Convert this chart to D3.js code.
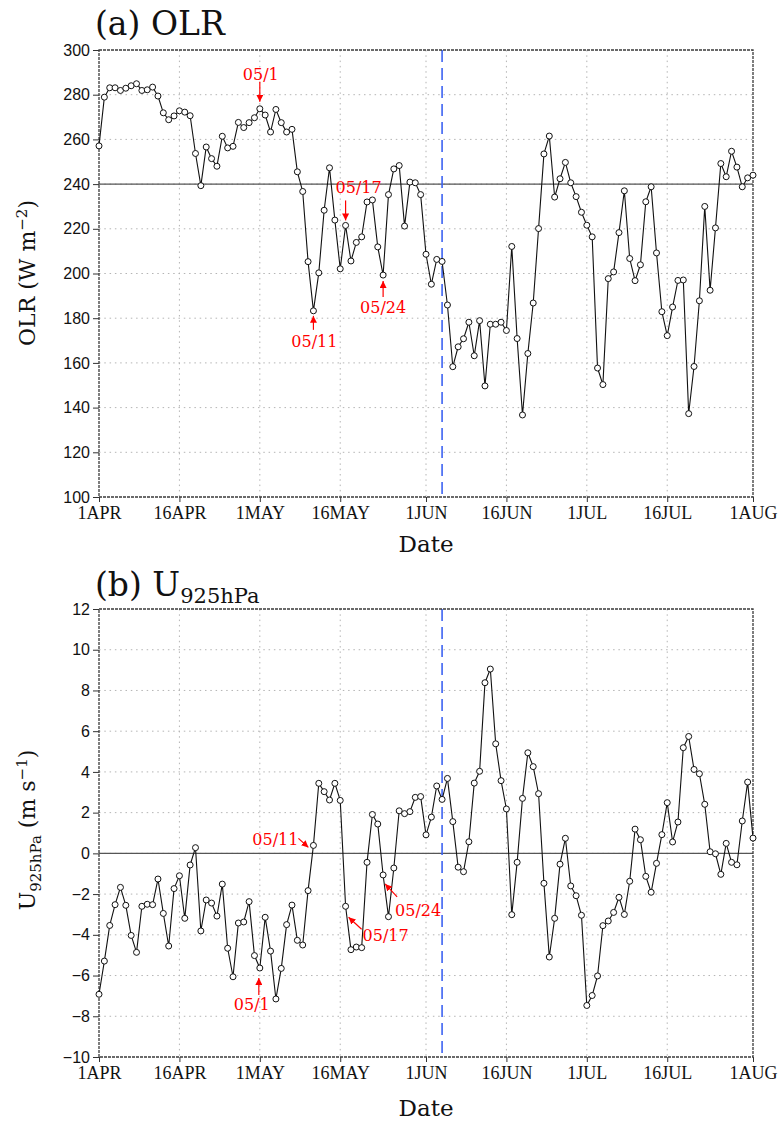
<!DOCTYPE html>
<html>
<head>
<meta charset="utf-8">
<script src="https://cdn.jsdelivr.net/npm/d3@7"></script>
<style>
  body { margin: 0; background: #fff; }
  svg { display: block; }
</style>
</head>
<body>
<svg id="chart" width="779" height="1124"></svg>
<script>
// Daily OLR (W m-2), 1 Apr - 1 Aug
const olr = [
  257.1, 278.9, 283.1, 283.1, 281.9, 282.9, 284.0, 284.9, 281.9, 282.2,
  283.4, 279.4, 271.9, 268.8, 270.5, 272.8, 272.2, 270.6, 253.7, 239.3,
  256.6, 251.4, 248.0, 261.4, 256.2, 256.9, 267.6, 265.3, 267.5, 269.7,
  273.7, 270.9, 263.3, 273.4, 267.5, 263.3, 264.5, 245.5, 236.7, 205.3,
  183.3, 200.3, 228.3, 247.3, 223.9, 202.1, 221.5, 205.6, 213.9, 216.4,
  232.0, 232.9, 211.9, 199.3, 235.3, 246.8, 248.3, 221.2, 240.9, 240.6,
  235.3, 208.6, 195.2, 206.3, 205.4, 185.9, 158.3, 167.2, 170.8, 178.2,
  163.2, 178.9, 149.7, 177.3, 177.3, 178.2, 174.5, 212.1, 170.9, 136.7,
  164.2, 186.8, 220.1, 253.5, 261.5, 234.2, 242.4, 249.7, 240.6, 234.4,
  227.4, 221.6, 216.4, 157.7, 150.3, 197.7, 200.7, 218.3, 237.0, 206.7,
  196.8, 203.9, 232.1, 238.8, 209.2, 182.9, 172.2, 185.0, 196.9, 197.1,
  137.3, 158.4, 187.8, 230.0, 192.5, 220.4, 249.2, 243.3, 254.7, 247.6,
  238.8, 242.8, 244.0
];

// Daily 925-hPa zonal wind (m s-1), 1 Apr - 1 Aug
const u925 = [
  -6.92, -5.29, -3.54, -2.52, -1.67, -2.55, -4.03, -4.86, -2.60, -2.50,
  -2.52, -1.26, -2.95, -4.55, -1.73, -1.10, -3.19, -0.57,  0.28, -3.81,
  -2.29, -2.44, -3.08, -1.51, -4.66, -6.06, -3.42, -3.37, -2.37, -5.02,
  -5.63, -3.14, -4.80, -7.15, -5.65, -3.50, -2.54, -4.27, -4.50, -1.83,
   0.39,  3.44,  3.03,  2.62,  3.44,  2.60, -2.60, -4.73, -4.60, -4.63,
  -0.44,  1.91,  1.44, -1.06, -3.11, -0.72,  2.09,  1.95,  2.05,  2.75,
   2.79,  0.91,  1.78,  3.31,  2.65,  3.68,  1.56, -0.68, -0.90,  0.57,
   3.45,  4.03,  8.38,  9.05,  5.38,  3.57,  2.18, -3.01, -0.44,  2.70,
   4.94,  4.26,  2.93, -1.47, -5.09, -3.19, -0.53,  0.74, -1.60, -2.08,
  -3.04, -7.47, -6.98, -6.02, -3.55, -3.32, -2.90, -2.16, -3.00, -1.37,
   1.19,  0.67, -1.13, -1.91, -0.49,  0.92,  2.49,  0.56,  1.54,  5.19,
   5.74,  4.12,  3.91,  2.41,  0.08, -0.02, -1.03,  0.49, -0.44, -0.56,
   1.59,  3.50,  0.75
];

const startDate = new Date(Date.UTC(2000, 3, 1));
const dates = olr.map((_, i) => d3.utcDay.offset(startDate, i));

const xTickDates = ["2000-04-01","2000-04-16","2000-05-01","2000-05-16","2000-06-01",
                    "2000-06-16","2000-07-01","2000-07-16","2000-08-01"];
const xTickLabels = ["1APR","16APR","1MAY","16MAY","1JUN","16JUN","1JUL","16JUL","1AUG"];
const olrTicks = [100, 120, 140, 160, 180, 200, 220, 240, 260, 280, 300];
const uTicks = [-10, -8, -6, -4, -2, 0, 2, 4, 6, 8, 10, 12];

const onsetDate = "2000-06-04";
const eventLabels = ["05/1", "05/11", "05/17", "05/24"];
const eventDates = ["2000-05-01", "2000-05-11", "2000-05-17", "2000-05-24"];

const svg = d3.select("#chart");
const left = 99, right = 753;
const x = d3.scaleUtc()
  .domain([startDate, new Date(Date.UTC(2000, 7, 1))])
  .range([left, right]);
const parse = s => new Date(s + "T00:00:00Z");

const SERIF = "'DejaVu Serif', serif";
const TIMES = "'Liberation Serif', serif";
const SANS = "'Liberation Sans', sans-serif";

svg.append("defs").append("marker")
  .attr("id", "redArrow")
  .attr("viewBox", "0 0 10 10")
  .attr("refX", 10).attr("refY", 5)
  .attr("markerWidth", 7).attr("markerHeight", 7)
  .attr("markerUnits", "userSpaceOnUse")
  .attr("orient", "auto")
  .append("path").attr("d", "M0,0 L10,5 L0,10 Z").attr("fill", "#ff0000");

function drawPanel(cfg) {
  const g = svg.append("g");
  const y = d3.scaleLinear().domain(cfg.domain).range([cfg.bottom, cfg.top]);

  // dotted grid
  g.append("g").selectAll("line.hg")
    .data(cfg.yTicks.slice(1, -1)).join("line")
    .attr("x1", left).attr("x2", right)
    .attr("y1", d => y(d)).attr("y2", d => y(d))
    .attr("stroke", "#b4b4b4").attr("stroke-width", 1)
    .attr("stroke-dasharray", "1.5,3.8");
  g.append("g").selectAll("line.vg")
    .data(xTickDates.slice(1, -1).map(parse)).join("line")
    .attr("x1", d => x(d)).attr("x2", d => x(d))
    .attr("y1", cfg.top).attr("y2", cfg.bottom)
    .attr("stroke", "#b4b4b4").attr("stroke-width", 1)
    .attr("stroke-dasharray", "1.5,3.8");

  // reference line
  g.append("line")
    .attr("x1", left).attr("x2", right)
    .attr("y1", y(cfg.ref)).attr("y2", y(cfg.ref))
    .attr("stroke", "#555").attr("stroke-width", 1.3);

  // onset marker
  g.append("line")
    .attr("x1", x(parse(onsetDate))).attr("x2", x(parse(onsetDate)))
    .attr("y1", cfg.top).attr("y2", cfg.bottom)
    .attr("stroke", "#3d63f2").attr("stroke-width", 1.6)
    .attr("stroke-dasharray", "12,6");

  // axes
  const yAxis = d3.axisLeft(y).tickValues(cfg.yTicks).tickSize(6).tickPadding(3)
    .tickFormat(d3.format("d"));
  const ya = g.append("g").attr("transform", `translate(${left},0)`).call(yAxis);
  ya.select(".domain").remove();
  ya.selectAll("text").attr("font-family", SANS).attr("font-size", 16).attr("fill", "#111");
  ya.selectAll("line").attr("stroke", "#333");

  const xAxis = d3.axisBottom(x).tickValues(xTickDates.map(parse)).tickSize(5).tickPadding(4)
    .tickFormat((d, i) => xTickLabels[i]);
  const xa = g.append("g").attr("transform", `translate(0,${cfg.bottom})`).call(xAxis);
  xa.select(".domain").remove();
  xa.selectAll("text").attr("font-family", TIMES).attr("font-size", 18).attr("fill", "#111");
  xa.selectAll("line").attr("stroke", "#333");

  // frame
  g.append("rect")
    .attr("x", left).attr("y", cfg.top)
    .attr("width", right - left).attr("height", cfg.bottom - cfg.top)
    .attr("fill", "none").attr("stroke", "#3a3a3a").attr("stroke-width", 1.3)
    .attr("stroke-dasharray", "3,1");

  // series
  const line = d3.line().x((d, i) => x(dates[i])).y(d => y(d));
  g.append("path").datum(cfg.values)
    .attr("d", line).attr("fill", "none")
    .attr("stroke", "#111").attr("stroke-width", 1.1);
  g.append("g").selectAll("circle")
    .data(cfg.values).join("circle")
    .attr("cx", (d, i) => x(dates[i])).attr("cy", d => y(d))
    .attr("r", 3).attr("fill", "#fff")
    .attr("stroke", "#111").attr("stroke-width", 1);

  // event annotations
  cfg.notes.forEach((n, k) => {
    const di = d3.utcDay.count(startDate, parse(eventDates[k]));
    const px = x(dates[di]), py = y(cfg.values[di]);
    g.append("line")
      .attr("x1", px + n.from[0]).attr("y1", py + n.from[1])
      .attr("x2", px + n.to[0]).attr("y2", py + n.to[1])
      .attr("stroke", "#ff0000").attr("stroke-width", 1.2)
      .attr("marker-end", "url(#redArrow)");
    g.append("text")
      .attr("x", px + n.text[0]).attr("y", py + n.text[1])
      .attr("text-anchor", "middle")
      .attr("font-family", SERIF).attr("font-size", 16)
      .attr("fill", "#ff0000")
      .text(eventLabels[k]);
  });

  // x title
  g.append("text")
    .attr("x", (left + right) / 2).attr("y", cfg.bottom + cfg.dateGap)
    .attr("text-anchor", "middle")
    .attr("font-family", SERIF).attr("font-size", 23).attr("fill", "#111")
    .text("Date");

  return g;
}

// (a) OLR
drawPanel({
  top: 50, bottom: 497, domain: [100, 300], yTicks: olrTicks, ref: 240, values: olr, dateGap: 55,
  notes: [
    { from: [0, -27], to: [0, -7], text: [1, -29] },
    { from: [0, 19], to: [0, 5], text: [1, 36] },
    { from: [0, -25], to: [0, -5], text: [13, -32] },
    { from: [0, 22], to: [0, 6], text: [0, 38] }
  ]
});
svg.append("text").attr("x", 95).attr("y", 35)
  .attr("font-family", SERIF).attr("font-size", 33).attr("fill", "#111")
  .text("(a) OLR");
const yla = svg.append("text")
  .attr("transform", "translate(35,273) rotate(-90)")
  .attr("text-anchor", "middle")
  .attr("font-family", SERIF).attr("font-size", 22).attr("fill", "#111");
yla.append("tspan").text("OLR (W m");
yla.append("tspan").attr("dy", -8).attr("font-size", 15).text("−2");
yla.append("tspan").attr("dy", 8).text(")");

// (b) U925
drawPanel({
  top: 609, bottom: 1057, domain: [-10, 12], yTicks: uTicks, ref: 0, values: u925, dateGap: 59,
  notes: [
    { from: [-1, 27], to: [-1, 10], text: [-8, 42] },
    { from: [-15, -7], to: [-5, 2], text: [-38, 0] },
    { from: [16, 23], to: [3, 11], text: [40, 35] },
    { from: [14, 22], to: [2, 9], text: [35, 41] }
  ]
});
const tb = svg.append("text").attr("x", 95).attr("y", 596)
  .attr("font-family", SERIF).attr("font-size", 33).attr("fill", "#111");
tb.append("tspan").text("(b) U");
tb.append("tspan").attr("dy", 7).attr("font-size", 21).text("925hPa");

const ylb = svg.append("text")
  .attr("transform", "translate(35,830) rotate(-90)")
  .attr("text-anchor", "middle")
  .attr("font-family", SERIF).attr("font-size", 22).attr("fill", "#111");
ylb.append("tspan").text("U");
ylb.append("tspan").attr("dy", 6).attr("font-size", 15).text("925hPa");
ylb.append("tspan").attr("dy", -6).text(" (m s");
ylb.append("tspan").attr("dy", -8).attr("font-size", 15).text("−1");
ylb.append("tspan").attr("dy", 8).text(")");
</script>
</body>
</html>
